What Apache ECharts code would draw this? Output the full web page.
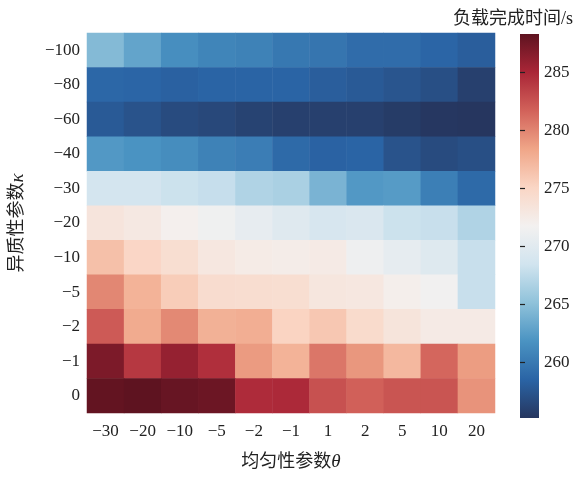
<!DOCTYPE html>
<html>
<head>
<meta charset="utf-8">
<script src="https://cdn.jsdelivr.net/npm/echarts@6/dist/echarts.min.js"></script>
<style>html,body{margin:0;padding:0;background:#fff}#c{width:582px;height:477px}</style>
</head>
<body>
<div id="c"></div>
<script>
// x categories: 均匀性参数θ
var xLabels = ['−30', '−20', '−10', '−5', '−2', '−1', '1', '2', '5', '10', '20'];
// y categories (top to bottom): 异质性参数κ
var yLabels = ['−100', '−80', '−60', '−40', '−30', '−20', '−10', '−5', '−2', '−1', '0'];
// 负载完成时间/s per row (κ), columns follow xLabels
var rowM100 = [264.6, 263.0, 261.5, 260.8, 260.6, 259.9, 259.7, 259.1, 259.1, 258.6, 258.1];
var rowM80  = [258.7, 258.6, 258.3, 258.5, 258.5, 258.5, 258.1, 257.8, 257.4, 257.0, 255.9];
var rowM60  = [257.8, 257.3, 256.7, 256.5, 256.1, 255.9, 255.9, 255.9, 255.6, 255.3, 255.2];
var rowM40  = [262.2, 261.8, 261.4, 260.6, 260.3, 258.9, 258.4, 258.5, 257.3, 256.7, 257.0];
var rowM30  = [268.7, 268.7, 268.2, 267.9, 266.8, 266.5, 264.1, 262.2, 262.4, 260.4, 258.9];
var rowM20  = [273.3, 272.8, 272.0, 271.4, 270.6, 269.8, 269.0, 269.3, 268.2, 268.0, 266.8];
var rowM10  = [276.6, 275.0, 274.1, 273.0, 272.5, 272.4, 272.6, 271.3, 270.5, 269.7, 268.0];
var rowM5   = [279.9, 277.5, 275.7, 274.3, 274.2, 274.1, 273.1, 273.0, 272.1, 271.6, 268.0];
var rowM2   = [282.1, 278.0, 279.8, 277.6, 277.8, 275.2, 276.1, 274.5, 273.4, 272.6, 272.6];
var rowM1   = [287.0, 284.0, 285.9, 284.5, 278.9, 277.5, 280.7, 279.1, 277.1, 281.5, 278.8];
var row0    = [288.1, 288.3, 287.9, 287.7, 284.7, 284.8, 282.6, 281.8, 282.4, 282.4, 279.3];
var colorbarTicks = [260, 265, 270, 275, 280, 285];
var vMin = 255.2, vMax = 288.3;

var rows = [rowM100, rowM80, rowM60, rowM40, rowM30, rowM20, rowM10, rowM5, rowM2, rowM1, row0];
var palette = ['#26365f', '#2a64a5', '#4a93c2', '#8fc2da', '#d1e4ef', '#f3f1f0',
               '#fad6c5', '#f0a688', '#d2625a', '#aa2637', '#5e1320'];

// ECharts category y axis runs bottom->top, so reverse
var yAxisData = yLabels.slice().reverse();
var data = [];
rows.forEach(function (row, ri) {
  var yi = yLabels.length - 1 - ri;
  row.forEach(function (v, xi) { data.push([xi, yi, v]); });
});

var serif = '"Liberation Serif", "DejaVu Serif", "Noto Sans CJK SC", serif';
var cjk = '"Liberation Serif", "Noto Sans CJK SC", serif';

var chart = echarts.init(document.getElementById('c'), null, { renderer: 'canvas' });
chart.setOption({
  animation: false,
  backgroundColor: '#fff',
  title: {
    text: '负载完成时间/s', right: 4, top: 5,
    textStyle: { fontFamily: cjk, fontSize: 18, fontWeight: 'normal', color: '#222' }
  },
  grid: [
    { left: 82, right: 87, top: 33, bottom: 59 },
    { left: 520, width: 19, top: 34, height: 384, show: true, borderWidth: 0,
      backgroundColor: new echarts.graphic.LinearGradient(0, 1, 0, 0, palette.map(function (c, i) {
        return { offset: i / (palette.length - 1), color: c };
      })) }
  ],
  xAxis: [
    { type: 'category', data: xLabels, gridIndex: 0,
      axisLine: { show: false }, axisTick: { show: false }, splitLine: { show: false },
      axisLabel: { fontFamily: serif, fontSize: 17, color: '#222', margin: 10 },
      name: '{a|均匀性参数}{b|θ}', nameLocation: 'middle', nameGap: 40,
      nameTextStyle: { rich: {
        a: { fontFamily: cjk, fontSize: 18, color: '#222' },
        b: { fontFamily: serif, fontSize: 19, fontStyle: 'italic', color: '#222' } } } },
    { type: 'value', gridIndex: 1, show: false, min: 0, max: 1 }
  ],
  yAxis: [
    { type: 'category', data: yAxisData, gridIndex: 0,
      axisLine: { show: false }, axisTick: { show: false }, splitLine: { show: false },
      axisLabel: { fontFamily: serif, fontSize: 17, color: '#222', margin: 7 },
      name: '{a|异质性参数}{b|κ}', nameLocation: 'middle', nameGap: 60, nameRotate: 90,
      nameTextStyle: { rich: {
        a: { fontFamily: cjk, fontSize: 18, color: '#222' },
        b: { fontFamily: serif, fontSize: 19, fontStyle: 'italic', color: '#222' } } } },
    { type: 'value', gridIndex: 1, min: vMin, max: vMax, position: 'right',
      axisLine: { show: false }, splitLine: { show: false },
      axisTick: { show: true, length: 5, lineStyle: { color: '#222', width: 1.2 }, customValues: colorbarTicks },
      axisLabel: { fontFamily: serif, fontSize: 17, color: '#222', margin: 5, customValues: colorbarTicks } }
  ],
  visualMap: {
    show: false, type: 'continuous', min: vMin, max: vMax, dimension: 2, seriesIndex: 0,
    inRange: { color: palette }
  },
  series: [{
    type: 'heatmap', xAxisIndex: 0, yAxisIndex: 0, data: data,
    itemStyle: { borderWidth: 0 },
    emphasis: { disabled: true }
  }]
});
</script>
</body>
</html>
